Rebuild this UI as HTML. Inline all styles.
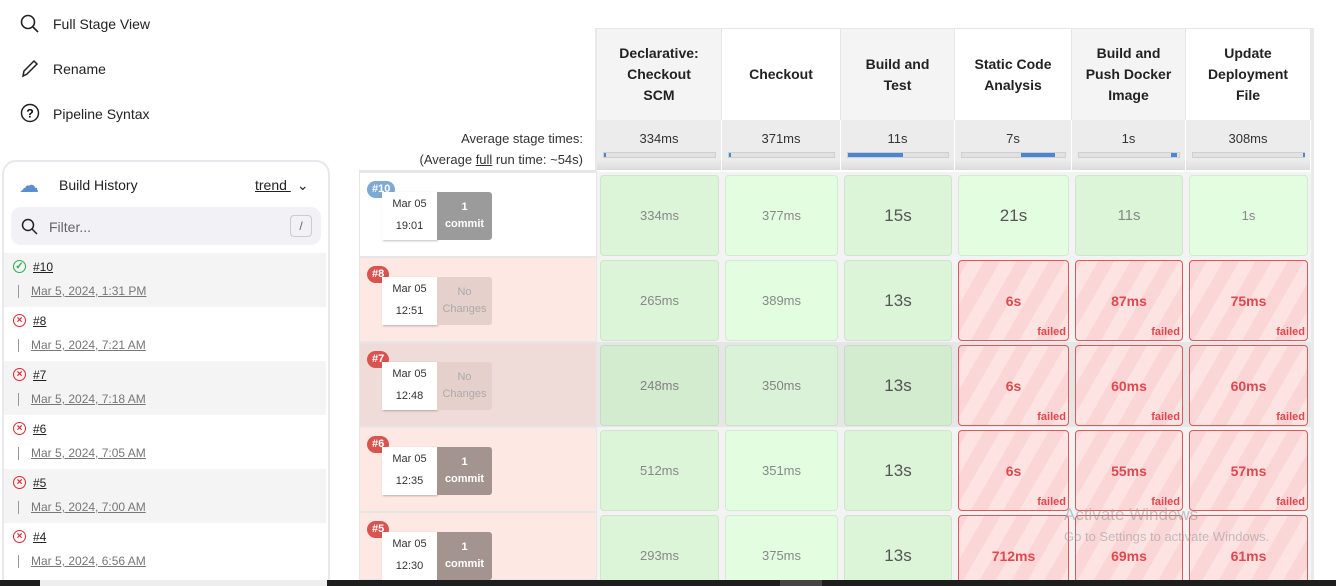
<!DOCTYPE html>
<html style="overflow:hidden;height:586px"><head><meta charset="utf-8"><style>
html,body{margin:0;width:1336px;height:586px;overflow:hidden}
body{background:#fff;font-family:"Liberation Sans",sans-serif;position:relative}
.a{position:absolute}
.menu{left:53px;font-size:14px;color:#222}
.hdr{top:28px;height:92px;display:flex;align-items:center;justify-content:center;text-align:center;font-weight:bold;font-size:14px;line-height:21px;color:#222;box-sizing:border-box;border-right:1px solid #e6e6e6}
.avg{top:120px;height:50px;background:linear-gradient(#ececec 80%,#dcdcdc);border-right:1px solid #fff;font-size:13px;color:#333;text-align:center;box-sizing:border-box;padding-top:11px}
.bar{position:absolute;top:32px;height:4px;background:#e2e2e2;border:1px solid #cfcfcf}
.fill{position:absolute;top:0;height:4px;background:#4a86d4}
.cell{position:absolute;border-radius:4px;box-sizing:border-box;display:flex;align-items:center;justify-content:center;font-size:13px;color:#888}
.ok1{background:#dcf5d8;border:1px solid #cfe5cc}
.ok2{background:#e3fde1;border:1px solid #d3ead1}
.fail{border:1.5px solid #e0575b;background:repeating-linear-gradient(-60deg,#fde4e2 0 14px,#fbd6d6 14px 28px);color:#e0484f;font-weight:bold;font-size:14px}
.fail span.f{position:absolute;right:2px;bottom:2px;font-size:11px}
.hist{left:0;width:327px;height:54px}
</style></head><body>
<div class="a" style="left:20px;top:14px">
<svg width="20" height="20"><circle cx="8" cy="8" r="6.5" fill="none" stroke="#222" stroke-width="1.6"/><line x1="13" y1="13" x2="18" y2="18" stroke="#222" stroke-width="1.6"/></svg></div>
<div class="a menu" style="top:16px">Full Stage View</div>
<div class="a" style="left:20px;top:58px"><svg width="20" height="20"><path d="M3 18 L4 13 L14 3 L17 6 L7 16 Z" fill="none" stroke="#222" stroke-width="1.5"/></svg></div>
<div class="a menu" style="top:61px">Rename</div>
<div class="a" style="left:20px;top:103px"><svg width="20" height="20"><circle cx="10" cy="10" r="8.5" fill="none" stroke="#222" stroke-width="1.5"/><text x="10" y="14.5" font-size="12" text-anchor="middle" font-family="Liberation Sans" font-weight="bold">?</text></svg></div>
<div class="a menu" style="top:106px">Pipeline Syntax</div>

<div class="a" style="left:2px;top:160px;width:328px;height:440px;border:2px solid #e8e8ef;border-radius:14px;box-sizing:border-box;overflow:hidden">
</div>
<div class="a" style="left:19px;top:173px;font-size:20px;color:#5a8fd0">☁</div>
<div class="a" style="left:59px;top:177px;font-size:14px;color:#222">Build History</div>
<div class="a" style="left:255px;top:177px;font-size:14px;color:#222;text-decoration:underline">trend <span style="text-decoration:none;display:inline-block;margin-left:6px">⌄</span></div>
<div class="a" style="left:11px;top:207px;width:310px;height:38px;background:#f1f1f6;border-radius:10px">
<svg class="a" style="left:10px;top:11px" width="18" height="18"><circle cx="7" cy="7" r="5.5" fill="none" stroke="#222" stroke-width="1.5"/><line x1="11" y1="11" x2="16" y2="16" stroke="#222" stroke-width="1.5"/></svg>
<div class="a" style="left:38px;top:12px;font-size:14px;color:#666">Filter...</div>
<div class="a" style="left:279px;top:8px;width:20px;height:20px;border:1px solid #ccc;border-radius:4px;font-size:12px;color:#666;text-align:center;line-height:20px">/</div></div>
<div id="hist"></div>

<div class="a" style="left:380px;top:131px;width:203px;text-align:right;font-size:13px;color:#333">Average stage times:</div>
<div class="a" style="left:380px;top:152px;width:203px;text-align:right;font-size:13px;color:#333">(Average <u>full</u> run time: ~54s)</div>
<div class="a" style="left:359px;top:170px;width:238px;height:2px;background:#e6e6e6"></div>
<div id="stage"></div>

<div class="a" style="left:0;top:580px;width:1336px;height:6px;background:#1e1e1e"></div>
<div class="a" style="left:40px;top:580px;width:287px;height:6px;background:#eee"></div>
<div class="a" style="left:780px;top:580px;width:42px;height:6px;background:#444"></div>
<div class="a" style="left:1064px;top:505px;font-size:17px;color:rgba(150,150,150,0.55)">Activate Windows</div>
<div class="a" style="left:1064px;top:529px;font-size:13px;color:rgba(150,150,150,0.55)">Go to Settings to activate Windows.</div>
<script>
const stages=["Declarative: Checkout SCM","Checkout","Build and Test","Static Code Analysis","Build and Push Docker Image","Update Deployment File"];
const stageHdr=["Declarative:<br>Checkout<br>SCM","Checkout","Build and<br>Test","Static Code<br>Analysis","Build and<br>Push Docker<br>Image","Update<br>Deployment<br>File"];
const avgTimes=["334ms","371ms","11s","7s","1s","308ms"];
const avgBarStart=[0,0,0,0.57,0.92,0.99];
const avgBarEnd=[0.01,0.01,0.55,0.9,0.98,1];
const builds=["#10","#8","#7","#6","#5"];
const buildTimes=["19:01","12:51","12:48","12:35","12:30"];
const buildCommits=["1 commit","No Changes","No Changes","1 commit","1 commit"];
const buildFailed=[false,true,true,true,true];
const durations=[["334ms","377ms","15s","21s","11s","1s"],["265ms","389ms","13s","6s","87ms","75ms"],["248ms","350ms","13s","6s","60ms","60ms"],["512ms","351ms","13s","6s","55ms","57ms"],["293ms","375ms","13s","712ms","69ms","61ms"]];
const cellFailed=[[0,0,0,0,0,0],[0,0,0,1,1,1],[0,0,0,1,1,1],[0,0,0,1,1,1],[0,0,0,1,1,1]];
const histNums=["#10","#8","#7","#6","#5","#4"];
const histDates=["Mar 5, 2024, 1:31 PM","Mar 5, 2024, 7:21 AM","Mar 5, 2024, 7:18 AM","Mar 5, 2024, 7:05 AM","Mar 5, 2024, 7:00 AM","Mar 5, 2024, 6:56 AM"];
const histOk=[true,false,false,false,false,false];

const colX=[597,722,841,955,1072,1186,1311];
const rowTop=172,rowH=85;
const st=document.getElementById('stage');
function mk(parent,cls,style,html){const d=document.createElement('div');d.className=cls;d.style.cssText=style;if(html!==undefined)d.innerHTML=html;parent.appendChild(d);return d;}
stages.forEach((s,i)=>{
 const x=colX[i],w=colX[i+1]-colX[i];
 const h=mk(st,'a hdr',`left:${x}px;width:${w}px;background:${i%2==0?'#f4f4f4':'#fff'};border-top:1px solid #e6e6e6`,stageHdr[i]);
 
 
 const a=mk(st,'a avg',`left:${x}px;width:${w}px`,avgTimes[i]);
 
 
 const b=mk(a,'bar',`left:6px;width:${w-14}px`);
 mk(b,'fill',`left:${avgBarStart[i]*(w-14)}px;width:${Math.max(2,(avgBarEnd[i]-avgBarStart[i])*(w-14))}px`);
});
mk(st,'a',`left:${colX[0]-2}px;top:28px;width:2px;height:552px;background:#e9e9e9`);
mk(st,'a',`left:1311px;top:28px;width:3px;height:552px;background:#eaeaea`);
builds.forEach((b,r)=>{
 const y=rowTop+r*rowH;
 const hov=r==2;
 const rh=Math.min(rowH,580-y);
 const row=mk(st,'a',`left:359px;top:${y}px;width:238px;height:${rh}px;box-sizing:border-box;border:1px solid #e6e6e6;background:${!buildFailed[r]?'#fff':(hov?'#efdcd8':'#fde8e4')}`);
 
 
 mk(st,'a',`left:597px;top:${y}px;width:714px;height:${rh}px;background:${hov?'#e6e6e6':'#f3f3f3'}`);
 const badge=mk(st,'a',`left:367px;top:${y+9}px;padding:0 5px;height:17px;line-height:17px;border-radius:9px;font-size:11px;font-weight:bold;color:#fff;background:${buildFailed[r]?'#d9534f':'#7ea8d6'}`,b);
 
 
 mk(st,'a',`left:382px;top:${y+20}px;width:55px;height:47px;background:#fff;box-shadow:1px 1px 2px rgba(0,0,0,.25);font-size:11px;color:#333;text-align:center;line-height:22px;padding-top:1px`,'Mar 05<br>'+buildTimes[r]);
 const nc=buildCommits[r]=='No Changes';
 const cm=mk(st,'a',`left:437px;top:${y+20}px;width:55px;height:48px;border-radius:0 3px 3px 0;font-size:11px;text-align:center;line-height:17px;display:flex;align-items:center;justify-content:center;${nc?'background:#e6d0cc;color:#aaa':(r==0?'background:#9b9b9b;color:#fff;font-weight:bold':'background:#a3948f;color:#fff;font-weight:bold')}`,nc?'No<br>Changes':'1<br>commit');
 
 
 durations[r].forEach((d,i)=>{
  const x=colX[i],w=colX[i+1]-colX[i];
  const f=cellFailed[r][i];
  let cls='cell '+(f?'fail':(i%2==0?'ok1':'ok2'));
  let fs='';
  if(!f&&i==2||(!f&&i==3&&r==0)) fs='font-size:17px;color:#555;';
  if(!f&&i==4&&r==0) fs='font-size:15px;color:#888;';
  if(hov&&!f) fs+='filter:brightness(0.96);';
  const ch=Math.min(rowH-4,577-(y+3));
  const c=mk(st,cls,`left:${x+3}px;top:${y+3}px;width:${w-6}px;height:${rowH-4}px;${fs}`,d+(f?'<span class="f">failed</span>':''));
  
  
 });
});
const hs=document.getElementById('hist');
histNums.forEach((n,k)=>{
 const y=253+k*54;
 const it=mk(hs,'a hist',`left:4px;top:${y}px;width:322px;height:${Math.min(54,580-y)}px;overflow:hidden;background:${k%2==0?'#f4f4f4':'#fff'}`);
 
 
 const col=histOk[k]?'#2eab4d':'#e0242f';
 mk(it,'a',`left:9px;top:7px;width:11px;height:11px;border:1.5px solid ${col};border-radius:50%;font-size:10px;line-height:11px;text-align:center;color:${col};font-weight:bold`,histOk[k]?'✓':'×');
 mk(it,'a',`left:29px;top:7px;font-size:12px;color:#222;text-decoration:underline`,n);
 mk(it,'a',`left:14px;top:32px;width:1px;height:13px;background:#999`);
 mk(it,'a',`left:27px;top:31px;font-size:12px;color:#777;text-decoration:underline`,histDates[k]);
});
</script>
</body></html>
